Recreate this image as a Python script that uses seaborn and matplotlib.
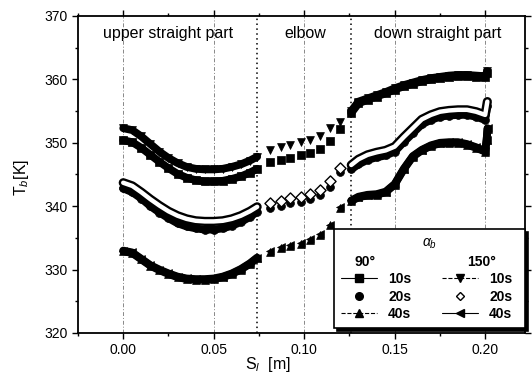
import matplotlib
matplotlib.use("Agg")
import matplotlib.pyplot as plt
import seaborn as sns
import pandas as pd
from matplotlib.lines import Line2D
from matplotlib.ticker import MultipleLocator

# ---------------- data ----------------
x_upper = [0.000, 0.005, 0.010, 0.015, 0.020, 0.025, 0.030, 0.035,
           0.040, 0.045, 0.050, 0.055, 0.060, 0.065, 0.070, 0.074]
x_elbow = [0.081, 0.087, 0.092, 0.098, 0.103, 0.109, 0.114, 0.120]
x_down = [0.126, 0.130, 0.135, 0.140, 0.145, 0.150, 0.155, 0.160,
          0.165, 0.170, 0.175, 0.180, 0.185, 0.190, 0.195, 0.200]
x_tail_10s = [0.2012]
x_tail_20s = [0.2012]
x_tail_40s = [0.2008, 0.2013]

# 90 deg, 10 s (squares)
sq_upper = [350.4, 350.1, 349.2, 348.1, 347.0, 346.0, 345.1, 344.5,
            344.1, 343.9, 343.9, 344.0, 344.3, 344.7, 345.3, 345.9]
sq_elbow = [347.0, 347.3, 347.6, 348.0, 348.4, 349.0, 350.3, 352.1]
sq_down = [354.7, 356.2, 356.8, 357.3, 357.8, 358.4, 358.9, 359.3,
           359.7, 360.0, 360.2, 360.4, 360.5, 360.5, 360.4, 360.3]
sq_tail = [361.0]

# 150 deg, 10 s (down triangles)
dt_upper = [352.3, 352.0, 351.0, 349.8, 348.6, 347.6, 346.8, 346.2,
            345.9, 345.8, 345.8, 345.9, 346.2, 346.6, 347.2, 347.8]
dt_elbow = [348.8, 349.3, 349.7, 350.1, 350.5, 351.0, 352.3, 353.3]
dt_down = [355.0, 356.5, 357.0, 357.5, 358.0, 358.6, 359.1, 359.5,
           359.9, 360.2, 360.4, 360.6, 360.7, 360.7, 360.6, 360.5]
dt_tail = [361.3]

# 90 deg, 20 s (circles)
ci_upper = [342.8, 342.2, 341.2, 340.0, 339.0, 338.1, 337.3, 336.8,
            336.5, 336.3, 336.3, 336.5, 336.9, 337.5, 338.3, 339.1]
ci_elbow = [339.7, 340.0, 340.5, 340.7, 341.1, 341.8, 343.1, 345.4]
ci_down = [345.8, 346.6, 347.3, 347.7, 348.0, 348.6, 350.1, 351.5,
           352.9, 353.6, 354.1, 354.3, 354.4, 354.4, 354.1, 353.6]
ci_tail = [355.8]

# 150 deg, 20 s (open diamonds)
di_upper = [343.7, 343.2, 342.2, 341.1, 340.1, 339.2, 338.5, 338.0,
            337.7, 337.6, 337.6, 337.7, 338.0, 338.5, 339.2, 339.9]
di_elbow = [340.5, 340.8, 341.3, 341.5, 341.9, 342.6, 343.9, 346.0]
di_down = [346.5, 347.4, 348.1, 348.5, 348.8, 349.4, 350.9, 352.3,
           353.7, 354.4, 354.9, 355.1, 355.2, 355.2, 354.9, 354.4]
di_tail = [356.5]

# 90 deg, 40 s (up triangles)
ut_upper = [332.9, 332.6, 331.6, 330.6, 329.9, 329.3, 328.8, 328.5,
            328.4, 328.4, 328.5, 328.8, 329.3, 330.0, 330.9, 331.8]
ut_elbow = [332.8, 333.4, 333.8, 334.1, 334.7, 335.5, 337.0, 339.7]
ut_down = [340.8, 341.4, 341.7, 341.8, 342.2, 343.4, 345.8, 347.8,
           348.8, 349.5, 349.9, 350.0, 350.0, 349.7, 349.2, 348.6]
ut_tail = [350.4, 352.2]

# 150 deg, 40 s (left triangles)
lt_upper = [333.0, 332.7, 331.7, 330.7, 330.0, 329.4, 328.9, 328.6,
            328.5, 328.5, 328.6, 328.9, 329.4, 330.1, 331.0, 331.9]
lt_elbow = [332.9, 333.5, 333.9, 334.2, 334.8, 335.6, 337.1, 339.8]
lt_down = [340.9, 341.5, 341.8, 341.9, 342.3, 343.5, 345.9, 347.9,
           348.9, 349.6, 350.0, 350.1, 350.1, 349.8, 349.3, 348.7]
lt_tail = [350.5, 352.3]

section_bounds = [0.074, 0.126]
section_names = ["upper straight part", "elbow", "down straight part"]
section_centers = [0.025, 0.1005, 0.174]
label_level = 367.3

x_ticks = [0.00, 0.05, 0.10, 0.15, 0.20]
y_ticks = [320, 330, 340, 350, 360, 370]

# ---------------- style ----------------
sns.set_theme(style="ticks")
plt.rcParams["font.family"] = ["Liberation Sans", "DejaVu Sans"]
plt.rcParams["text.color"] = "black"
plt.rcParams["axes.labelcolor"] = "black"
plt.rcParams["mathtext.fontset"] = "custom"
plt.rcParams["mathtext.rm"] = "Liberation Sans"
plt.rcParams["mathtext.it"] = "Liberation Sans:italic"

fig = plt.figure(figsize=(5.32, 3.80), dpi=100)
ax = fig.add_axes([0.1466, 0.1237, 0.8402, 0.8342])

# grid lines at major x ticks and section boundaries
for xv in x_ticks:
    ax.axvline(xv, color="#888888", ls=(0, (4, 2, 1, 2)), lw=0.7, zorder=0)
for xv in section_bounds:
    ax.axvline(xv, color="black", ls=(0, (1, 2.2)), lw=1.1, zorder=1)

BAND = 5.6
MS = 32


def draw_series(xu, yu, xe, ye, xd, yd, xt, yt, marker, hollow=False):
    xdn = xd + xt
    ydn = yd + yt
    for xs, ys in ((xu, yu), (xdn, ydn)):
        sns.lineplot(x=xs, y=ys, ax=ax, color="black", lw=BAND + (1.0 if hollow else 0),
                     sort=False, estimator=None, solid_capstyle="round", zorder=3)
        if hollow:
            sns.lineplot(x=xs, y=ys, ax=ax, color="white", lw=BAND - 2.4,
                         sort=False, estimator=None, solid_capstyle="round", zorder=3)
        else:
            sns.scatterplot(x=xs, y=ys, ax=ax, marker=marker, s=MS, color="black",
                            edgecolor="black", linewidth=0.5, zorder=3)
    sns.scatterplot(x=xe, y=ye, ax=ax, marker=marker, s=MS,
                    color="white" if hollow else "black", edgecolor="black",
                    linewidth=1.0 if hollow else 0.5, zorder=4 if hollow else 3)


draw_series(x_upper, ut_upper, x_elbow, ut_elbow, x_down, ut_down, x_tail_40s, ut_tail, "^")
draw_series(x_upper, lt_upper, x_elbow, lt_elbow, x_down, lt_down, x_tail_40s, lt_tail, "<")
draw_series(x_upper, ci_upper, x_elbow, ci_elbow, x_down, ci_down, x_tail_20s, ci_tail, "o")
draw_series(x_upper, di_upper, x_elbow, di_elbow, x_down, di_down, x_tail_20s, di_tail, "D", hollow=True)
draw_series(x_upper, sq_upper, x_elbow, sq_elbow, x_down, sq_down, x_tail_10s, sq_tail, "s")
draw_series(x_upper, dt_upper, x_elbow, dt_elbow, x_down, dt_down, x_tail_10s, dt_tail, "v")

for name, xc in zip(section_names, section_centers):
    ax.text(xc, label_level, name, ha="center", va="center", fontsize=11.5, color="black")

ax.set_xlim(-0.025, 0.222)
ax.set_ylim(320, 370)
ax.set_xticks(x_ticks)
ax.set_xticklabels([f"{v:.2f}" for v in x_ticks])
ax.set_yticks(y_ticks)
ax.xaxis.set_minor_locator(MultipleLocator(0.025))
ax.yaxis.set_minor_locator(MultipleLocator(5))
ax.tick_params(which="both", direction="out", top=True, right=True, colors="black",
               labelsize=10, width=1.0)
ax.tick_params(which="major", length=4)
ax.tick_params(which="minor", length=2.5)
for sp in ax.spines.values():
    sp.set_linewidth(1.3)
    sp.set_color("black")

ax.set_xlabel(r"S$_l$  [m]", fontsize=11.5, color="black")
ax.set_ylabel(r"T$_b$[K]", fontsize=11.5, color="black")
ax.xaxis.set_label_coords(0.425, -0.07)
ax.yaxis.set_label_coords(-0.105, 0.49)

# legend
blank = Line2D([], [], ls="none", marker=None)
handles = [
    blank,
    Line2D([], [], color="black", ls="-", lw=0.8, marker="s", ms=5.5),
    Line2D([], [], color="black", ls="none", marker="o", ms=5.5),
    Line2D([], [], color="black", ls="--", lw=0.8, marker="^", ms=5.5),
    blank,
    Line2D([], [], color="black", ls="--", lw=0.8, marker="v", ms=5.5),
    Line2D([], [], color="black", ls="none", marker="D", ms=4.5, mfc="white", mec="black"),
    Line2D([], [], color="black", ls="-", lw=0.8, marker="<", ms=5.5),
]
labels = ["90°", "10s", "20s", "40s", "150°", "10s", "20s", "40s"]
leg = ax.legend(handles, labels, ncol=2, title=r"$\alpha_b$", loc="lower right",
                bbox_to_anchor=(1.0, 0.016), borderaxespad=0.0, frameon=True,
                fancybox=False, edgecolor="black", framealpha=1,
                shadow={"color": "black", "alpha": 1}, fontsize=10,
                title_fontsize=10, handlelength=2.6, columnspacing=2.2,
                labelspacing=0.25, borderpad=0.5)
leg.get_frame().set_linewidth(1.2)
leg.get_title().set_color("black")
texts = leg.get_texts()
for t in texts:
    t.set_fontweight("bold")
    t.set_color("black")
texts[0].set_x(-34)
texts[4].set_x(-22)

fig.savefig("out.png", dpi=100)
